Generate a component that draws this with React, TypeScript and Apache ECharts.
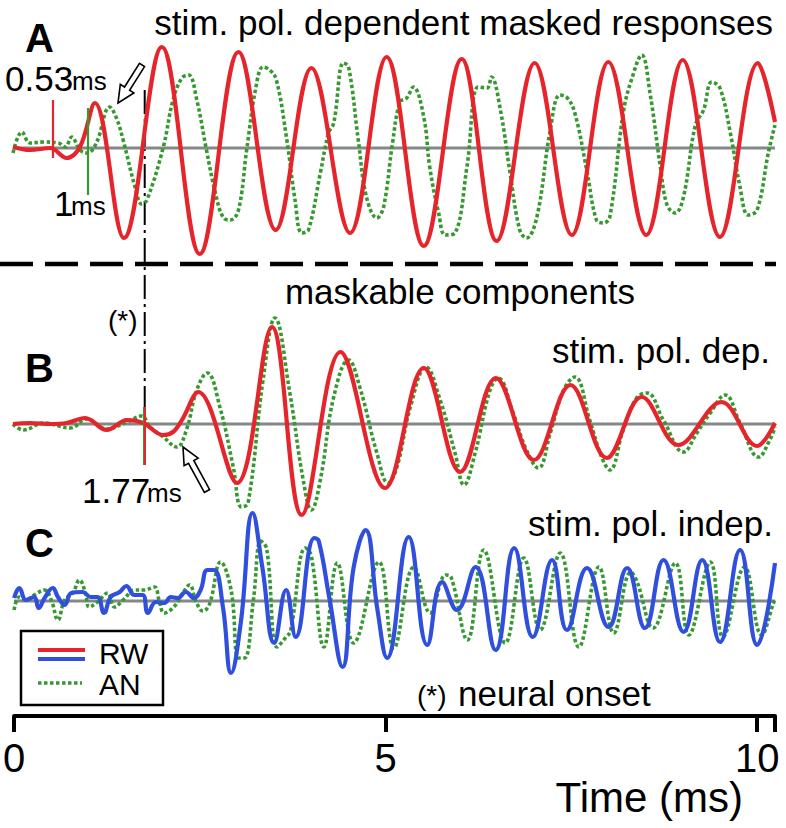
import React, { useEffect, useRef } from "react";
import * as echarts from "echarts";

// ---------- data (time in ms, amplitude in arbitrary units, + = up) ----------
const X_MIN = 0;
const X_MAX = 10.24;
const X_INTERVAL = 5;
const ONSET_MS = 1.77;
const MARK_RED_A_MS = 0.53;
const MARK_GREEN_A_MS = 1.0;

// peaks / troughs
const RED_A: number[][] = [
  [0, 1], [0.23, -2], [0.5, 0], [0.72, -10], [0.9, 1], [1.1, 45], [1.49, -90], [2.0, 101],
  [2.51, -106], [3.03, 96], [3.53, -82], [4.01, 80], [4.53, -85], [5.02, 91], [5.52, -98],
  [6.03, 89], [6.5, -93], [7.01, 85], [7.51, -87], [8.0, 86], [8.51, -87], [9.0, 88], [9.5, -89],
  [10.01, 85], [10.24, 26],
];

const GREEN_A: number[][] = [
  [0, -5], [0.12, 16], [0.23, 5], [0.41, 6], [0.61, 5], [0.7, 1], [0.79, 11], [0.9, -2], [1.0, -5],
  [1.12, 5], [1.3, 41], [1.39, 30], [1.48, 8], [1.64, -39], [1.73, -56], [1.8, -52], [2.02, 1],
  [2.15, 48], [2.27, 70], [2.36, 73], [2.47, 48], [2.6, -2], [2.72, -45], [2.83, -70], [2.92, -72],
  [3.03, -62], [3.14, -2], [3.27, 63], [3.36, 81], [3.45, 78], [3.54, 68], [3.68, 8], [3.79, -52],
  [3.88, -85], [3.97, -82], [4.13, -25], [4.24, 15], [4.31, 25], [4.44, 85], [4.51, 81], [4.64, 8],
  [4.75, -49], [4.89, -70], [4.98, -59], [5.1, 5], [5.2, 46], [5.29, 50], [5.38, 61], [5.52, 31],
  [5.6, -19], [5.72, -65], [5.81, -87], [5.94, -85], [6.1, -19], [6.25, 61], [6.37, 60], [6.43, 71],
  [6.55, 38], [6.68, -25], [6.81, -82], [6.9, -90], [7.04, -69], [7.22, 18], [7.35, 53], [7.45, 50],
  [7.55, 35], [7.71, -22], [7.84, -72], [7.93, -75], [8.02, -69], [8.2, 35], [8.31, 68], [8.45, 93],
  [8.56, 55], [8.7, -19], [8.79, -57], [8.9, -65], [9.01, -49], [9.17, 23], [9.28, 38], [9.39, 66],
  [9.5, 60], [9.64, 15], [9.77, -39], [9.88, -67], [10.0, -62], [10.15, -5], [10.24, 23],
];

const RED_B: number[][] = [
  [0, 0], [0.23, 1], [0.5, 0], [0.72, 1], [0.97, 6], [1.26, -6], [1.53, 4], [1.75, 1], [2.02, -11],
  [2.15, -8], [2.27, 4], [2.49, 32], [3.01, -59], [3.48, 97], [3.88, -91], [4.4, 72], [5.0, -64],
  [5.52, 56], [6.01, -48], [6.49, 46], [7.0, -36], [7.49, 39], [7.98, -34], [8.45, 27], [8.94, -21],
  [9.52, 22], [10.0, -22], [10.24, 1],
];

const GREEN_B: number[][] = [
  [0, 0], [0.14, -6], [0.41, 1], [0.77, -4], [0.99, 5], [1.26, -5], [1.53, 2], [1.73, 8], [1.84, -3],
  [2.02, -13], [2.2, -23], [2.33, -6], [2.47, 34], [2.61, 51], [2.78, 17], [2.96, -43], [3.07, -83],
  [3.16, -79], [3.36, 44], [3.52, 106], [3.72, 31], [3.9, -56], [4.01, -86], [4.13, -56], [4.31, 27],
  [4.51, 64], [4.66, 37], [4.89, -29], [5.04, -59], [5.16, -43], [5.34, 17], [5.55, 57], [5.74, 24],
  [5.94, -29], [6.06, -61], [6.21, -29], [6.41, 34], [6.52, 46], [6.72, 11], [6.9, -26], [7.06, -44],
  [7.22, -9], [7.4, 34], [7.55, 47], [7.75, 4], [7.91, -33], [8.02, -46], [8.2, -6], [8.38, 26],
  [8.52, 31], [8.74, 4], [9.01, -28], [9.19, -9], [9.37, 11], [9.57, 29], [9.77, 1], [10.02, -33],
  [10.17, -16], [10.24, -3],
];

const BLUE_C: number[][] = [
  [0, 3], [0.07, 13], [0.16, 1], [0.27, 4], [0.33, -7], [0.41, 3], [0.52, 13], [0.59, 4], [0.68, -4],
  [0.77, 8], [0.92, 9], [1.03, 4], [1.12, 4], [1.21, -12], [1.3, 4], [1.42, 9], [1.51, 15], [1.62, 6],
  [1.73, 6], [1.8, -12], [1.91, -1], [2.02, -2], [2.11, 4], [2.2, 3], [2.31, 9], [2.42, 3], [2.51, 11],
  [2.6, 31], [2.69, 31], [2.81, -6], [2.92, -72], [3.05, -22], [3.21, 88], [3.34, 34], [3.5, -42],
  [3.66, 11], [3.79, -36], [4.04, 63], [4.1, 60], [4.24, 4], [4.42, -66], [4.57, 34], [4.73, 71],
  [4.89, -9], [5.02, -57], [5.31, 64], [5.56, -44], [5.76, 19], [5.96, -9], [6.21, 34], [6.48, -49],
  [6.73, 53], [6.98, -36], [7.24, 41], [7.44, -29], [7.71, 33], [8.0, -26], [8.25, 33], [8.49, -27],
  [8.74, 41], [9.01, -31], [9.26, 41], [9.5, -41], [9.77, 51], [10.0, -44], [10.24, 38],
];

const GREEN_C: number[][] = [
  [0, -9], [0.07, 4], [0.16, 1], [0.27, 6], [0.41, 11], [0.5, 1], [0.59, -19], [0.68, 1], [0.79, 8],
  [0.88, 21], [0.96, 8], [1.01, -6], [1.12, -1], [1.26, 8], [1.35, -6], [1.48, 2], [1.62, 11],
  [1.75, 11], [1.89, 14], [1.95, 1], [2.02, -12], [2.15, -6], [2.27, 8], [2.36, 16], [2.45, -1],
  [2.54, -10], [2.63, -3], [2.78, 39], [2.92, 11], [3.02, -57], [3.1, -57], [3.22, 1], [3.32, 60],
  [3.4, 52], [3.54, -46], [3.66, -36], [3.72, -30], [3.92, 53], [4.0, 45], [4.17, -46], [4.35, 38],
  [4.57, -42], [4.91, 39], [5.11, -47], [5.38, 34], [5.6, -12], [5.81, 26], [5.88, 24], [6.1, -39],
  [6.32, 51], [6.61, -42], [6.86, 43], [7.08, -29], [7.35, 48], [7.6, -46], [7.87, 34], [8.07, -32],
  [8.3, 29], [8.38, 20], [8.6, -27], [8.9, 38], [9.08, -34], [9.37, 39], [9.54, -36], [9.83, 34],
  [10.06, -34], [10.22, -2], [10.24, 2],
];

// ---------- styling ----------
const RED = "#e5252b";
const GREEN = "#35992f";
const BLUE = "#2f4fdc";
const GRAY = "#838888";
const FONT = "Liberation Sans, Arial, Helvetica, sans-serif";
const DOT: number[] = [3.5, 2.5];

function arrowPoints(tipX: number, tipY: number, tailX: number, tailY: number) {
  const dx = tailX - tipX, dy = tailY - tipY;
  const L = Math.hypot(dx, dy);
  const ux = dx / L, uy = dy / L;
  const nx = -uy, ny = ux;
  const headLen = 17, headW = 16, shaftW = 6;
  const bx = tipX + ux * headLen, by = tipY + uy * headLen;
  return [
    [tipX, tipY],
    [bx + nx * headW / 2, by + ny * headW / 2],
    [bx + nx * shaftW / 2, by + ny * shaftW / 2],
    [tailX + nx * shaftW / 2, tailY + ny * shaftW / 2],
    [tailX - nx * shaftW / 2, tailY - ny * shaftW / 2],
    [bx - nx * shaftW / 2, by - ny * shaftW / 2],
    [bx - nx * headW / 2, by - ny * headW / 2],
  ];
}

function txt(x: number, y: number, text: string, size: number, align = "left", weight = "normal") {
  return {
    type: "text", x, y, silent: true,
    style: { text, fontSize: size, fontFamily: FONT, fontWeight: weight, fill: "#000", align, verticalAlign: "middle" },
  };
}

export default function App() {
  const ref = useRef<HTMLDivElement>(null);
  useEffect(() => {
    const chart = echarts.init(ref.current!, null, { renderer: "svg" });

    const trace = (data: number[][], color: string, grid: number, dotted: boolean, z: number, smooth: number, extra: any = {}) => ({
      type: "line", xAxisIndex: grid, yAxisIndex: grid, data, smooth,
      symbol: "none", showSymbol: false, silent: true, z,
      lineStyle: { color, width: dotted ? 3.6 : 4.2, type: dotted ? DOT : "solid", cap: "butt" },
      ...extra,
    });
    const baseline = (grid: number) => ({
      type: "line", xAxisIndex: grid, yAxisIndex: grid, data: [[X_MIN, 0], [X_MAX, 0]],
      symbol: "none", silent: true, z: 1, lineStyle: { color: GRAY, width: 2.8 },
    });
    const vmark = (x: number, y1: number, y2: number, color: string, width = 2.2) => ([
      { coord: [x, y1], lineStyle: { color, width, type: "solid" } },
      { coord: [x, y2] },
    ]);

    const hiddenX = (grid: number) => ({
      type: "value", gridIndex: grid, min: X_MIN, max: X_MAX, interval: X_INTERVAL, show: false,
    });
    const hiddenY = (grid: number, min: number, max: number) => ({
      type: "value", gridIndex: grid, min, max, show: false,
    });

    chart.setOption({
      animation: false,
      backgroundColor: "#fff",
      grid: [
        { left: 13, right: 11, top: 28, height: 240 },
        { left: 13, right: 11, top: 304, height: 240 },
        { left: 13, right: 11, top: 481, height: 235 },
      ],
      xAxis: [
        hiddenX(0),
        hiddenX(1),
        {
          type: "value", gridIndex: 2, min: X_MIN, max: X_MAX, interval: X_INTERVAL,
          axisLine: { show: true, onZero: false, lineStyle: { color: "#000", width: 4 } },
          axisTick: { show: true, length: 16, lineStyle: { color: "#000", width: 4 } },
          axisLabel: {
            show: true, color: "#000", fontSize: 40, fontFamily: FONT, margin: 22,
            formatter: (v: number) => (v % X_INTERVAL === 0 ? String(v) : ""),
          },
          splitLine: { show: false },
        },
      ],
      yAxis: [hiddenY(0, -120, 120), hiddenY(1, -120, 120), hiddenY(2, -115, 120)],
      series: [
        baseline(0), baseline(1), baseline(2),
        trace(GREEN_A, GREEN, 0, true, 2, 0.4, {
          markLine: {
            silent: true, symbol: ["none", "none"], label: { show: false },
            data: [vmark(MARK_GREEN_A_MS, 40, -47, GREEN)],
          },
        }),
        trace(RED_A, RED, 0, false, 3, 0.37, {
          markLine: {
            silent: true, symbol: ["none", "none"], label: { show: false },
            data: [vmark(MARK_RED_A_MS, 48, -10, RED)],
          },
        }),
        trace(GREEN_B, GREEN, 1, true, 2, 0.42, {
          markLine: {
            silent: true, symbol: ["none", "none"], label: { show: false },
            data: [vmark(ONSET_MS, 17, -41, GREEN, 3)],
          },
        }),
        trace(RED_B, RED, 1, false, 3, 0.37, {
          markLine: {
            silent: true, symbol: ["none", "none"], label: { show: false },
            data: [vmark(ONSET_MS, 17, -41, RED, 2)],
          },
        }),
        trace(GREEN_C, GREEN, 2, true, 2, 0.42),
        trace(BLUE_C, BLUE, 2, false, 3, 0.45),
      ],
    });

    const onsetX = chart.convertToPixel({ gridIndex: 0 }, [ONSET_MS, 0])[0];
    const onsetTopY = chart.convertToPixel({ gridIndex: 0 }, [ONSET_MS, 58])[1];
    const onsetBotY = chart.convertToPixel({ gridIndex: 1 }, [ONSET_MS, 17])[1];

    chart.setOption({
      graphic: [
        // panel separator
        { type: "line", silent: true, shape: { x1: 0, y1: 264, x2: 776, y2: 264 },
          style: { stroke: "#000", lineWidth: 4.5, lineDash: [33, 12] } },
        // neural onset dash-dot line
        { type: "line", silent: true, shape: { x1: onsetX, y1: onsetTopY, x2: onsetX, y2: onsetBotY },
          style: { stroke: "#000", lineWidth: 2, lineDash: [24, 5, 3, 5] } },
        // arrows
        { type: "polygon", silent: true, shape: { points: arrowPoints(118, 103, 142, 65) },
          style: { fill: "#fff", stroke: "#000", lineWidth: 1.6 }, z: 20 },
        { type: "polygon", silent: true, shape: { points: arrowPoints(183, 447, 207, 491) },
          style: { fill: "#fff", stroke: "#000", lineWidth: 1.6 }, z: 20 },
        // panel letters
        txt(25, 38, "A", 40, "left", "bold"),
        txt(25, 368, "B", 40, "left", "bold"),
        txt(25, 543, "C", 40, "left", "bold"),
        // titles
        txt(773, 22, "stim. pol. dependent masked responses", 35, "right"),
        txt(460, 291, "maskable components", 35, "center"),
        txt(770, 350, "stim. pol. dep.", 35, "right"),
        txt(773, 523, "stim. pol. indep.", 35, "right"),
        // latency labels
        txt(5, 78, "0.53", 35),
        txt(72, 81, "ms", 26),
        txt(54, 203, "1", 35),
        txt(71, 206, "ms", 26),
        txt(82, 490, "1.77", 35),
        txt(147, 493, "ms", 26),
        txt(108, 320, "(*)", 28),
        // footnote & axis title
        txt(417, 695, "(*)", 28),
        txt(458, 693, "neural onset", 35),
        txt(743, 797, "Time (ms)", 42, "right"),
        // legend
        { type: "rect", silent: true, shape: { x: 21, y: 631, width: 142, height: 74 },
          style: { fill: "#fff", stroke: "#000", lineWidth: 2.5 }, z: 30 },
        { type: "line", silent: true, shape: { x1: 38, y1: 650, x2: 85, y2: 650 },
          style: { stroke: RED, lineWidth: 4 }, z: 31 },
        { type: "line", silent: true, shape: { x1: 38, y1: 659, x2: 85, y2: 659 },
          style: { stroke: BLUE, lineWidth: 4 }, z: 31 },
        { type: "line", silent: true, shape: { x1: 38, y1: 683, x2: 82, y2: 683 },
          style: { stroke: GREEN, lineWidth: 3.6, lineDash: DOT }, z: 31 },
        { ...txt(99, 653, "RW", 30), z: 31 },
        { ...txt(99, 684, "AN", 30), z: 31 },
      ],
    });

    return () => chart.dispose();
  }, []);
  return (
    <div
      ref={ref}
      style={{ position: "fixed", left: 0, top: 0, width: 786, height: 828, background: "#fff" }}
    />
  );
}
